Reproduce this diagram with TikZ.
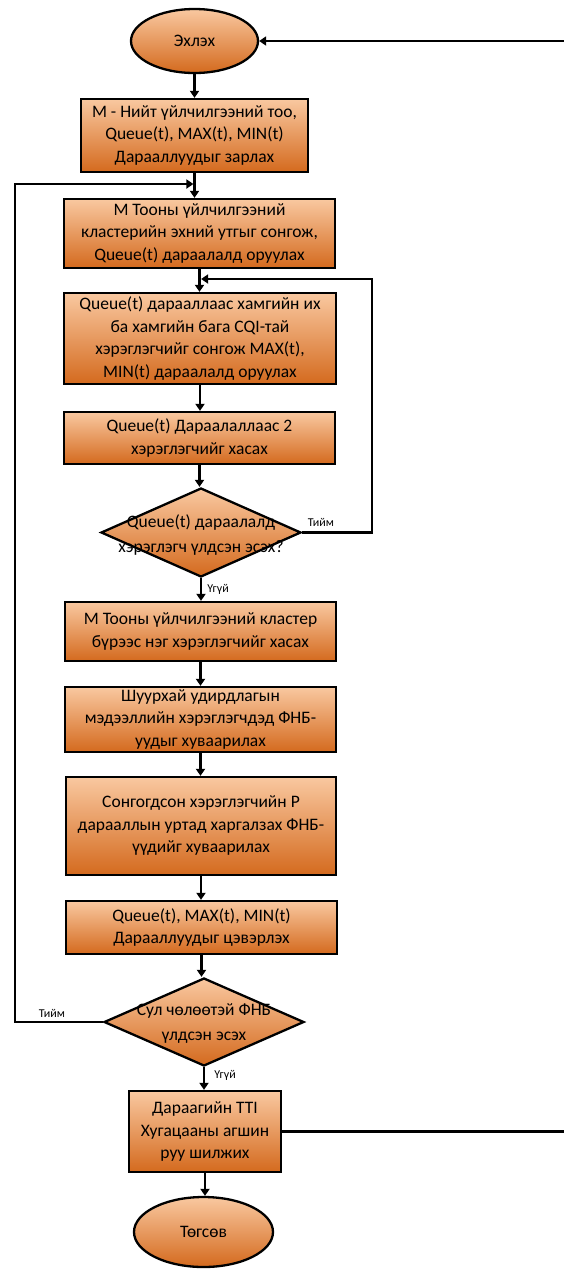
\documentclass[tikz,border=0pt]{standalone}
\usepackage{fontspec}
\setmainfont{Carlito}
\usetikzlibrary{shapes.geometric,arrows.meta}
\definecolor{otop}{RGB}{249,200,160}
\definecolor{obot}{RGB}{212,106,30}
\begin{document}
\begin{tikzpicture}[x=1pt,y=-1pt,
  fillshape/.style={draw=black,line width=2.3pt,top color=otop,bottom color=obot},
  procbox/.style={fillshape,rectangle,inner sep=0pt,align=center,font=\fontsize{17.5}{22.5}\selectfont},
  termnode/.style={fillshape,ellipse,inner sep=0pt,font=\fontsize{17.5}{22.5}\selectfont},
  decision/.style={fillshape,diamond,inner sep=0pt},
  dtext/.style={align=center,font=\fontsize{17.5}{25}\selectfont},
  flow/.style={line width=2.3pt,-{Triangle[width=9pt,length=7pt]}},
  lab/.style={font=\fontsize{12}{14}\selectfont,inner sep=0pt}]
\useasboundingbox (0,0) rectangle (563,1270);

\node[termnode,minimum width=127pt,minimum height=64pt] (start) at (194.5,41) {Эхлэх};
\node[procbox,minimum width=227pt,minimum height=73pt] (b1) at (194.5,135.5)
  {М - Нийт үйлчилгээний тоо,\\ Queue(t), MAX(t), MIN(t)\\ Дарааллуудыг зарлах};
\node[procbox,minimum width=271pt,minimum height=69pt] (b2) at (199.5,233.5)
  {М Тооны үйлчилгээний\\ кластерийн эхний утгыг сонгож,\\ Queue(t) дараалалд оруулах};
\node[procbox,minimum width=272pt,minimum height=91pt] (b3) at (200,338.5)
  {Queue(t) дарааллаас хамгийн их\\ ба хамгийн бага CQI-тай\\ хэрэглэгчийг сонгож MAX(t),\\ MIN(t) дараалалд оруулах};
\node[procbox,minimum width=271pt,minimum height=52pt] (b4) at (199.5,438)
  {Queue(t) Дараалаллаас 2\\ хэрэглэгчийг хасах};
\node[decision,minimum width=200pt,minimum height=89pt,
  label={[dtext,yshift=-3pt]center:{Queue(t) дараалалд\\ хэрэглэгч үлдсэн эсэх?}}] (d1) at (201,532.5) {};
\node[procbox,minimum width=271pt,minimum height=59pt] (b5) at (200.5,631.5)
  {М Тооны үйлчилгээний кластер\\ бүрээс нэг хэрэглэгчийг хасах};
\node[procbox,minimum width=271pt,minimum height=65pt] (b6) at (200.5,719.5)
  {Шуурхай удирдлагын\\ мэдээллийн хэрэглэгчдэд ФНБ-\\ уудыг хуваарилах};
\node[procbox,minimum width=270pt,minimum height=98pt] (b7) at (201,826)
  {Сонгогдсон хэрэглэгчийн Р\\ дарааллын уртад харгалзах ФНБ-\\ үүдийг хуваарилах};
\node[procbox,minimum width=271pt,minimum height=53pt] (b8) at (201.5,927.5)
  {Queue(t), MAX(t), MIN(t)\\ Дарааллуудыг цэвэрлэх};
\node[decision,minimum width=200pt,minimum height=88pt,
  label={[dtext,yshift=-2pt]center:{Сул чөлөөтэй ФНБ\\ үлдсэн эсэх}}] (d2) at (204,1022) {};
\node[procbox,minimum width=152pt,minimum height=81pt] (b9) at (205,1131.5)
  {Дараагийн TTI\\ Хугацааны агшин\\ руу шилжих};
\node[termnode,minimum width=139pt,minimum height=70pt] (end) at (203.5,1232) {Төгсөв};

% main flow
\draw[flow] (start) -- (b1);
\draw[flow] (b1.south) -- (b1.south |- b2.north);
\draw[flow] (b2.south) -- (b2.south |- b3.north);
\draw[flow] (b3.south) -- (b3.south |- b4.north);
\draw[flow] (b4.south) -- (b4.south |- d1.north);
\draw[flow] (d1.south) -- (d1.south |- b5.north);
\draw[flow] (b5.south) -- (b5.south |- b6.north);
\draw[flow] (b6.south) -- (b6.south |- b7.north);
\draw[flow] (b7.south) -- (b7.south |- b8.north);
\draw[flow] (b8.south) -- (b8.south |- d2.north);
\draw[flow] (d2.south) -- (d2.south |- b9.north);
\draw[flow] (b9.south) -- (b9.south |- end.north);

% loops
\coordinate (rj) at (372,279);
\draw[flow] (d1.east) -- (d1.east -| rj) -- (rj) -- ([xshift=1.1pt]b3.north |- rj);
\coordinate (lj) at (15,184);
\draw[flow] (d2.west) -- (d2.west -| lj) -- (lj) -- ([xshift=-1.1pt]b1.south |- lj);
\coordinate (rr) at (568,600);
\draw[flow] (b9.east) -- (b9.east -| rr) -- (rr |- start.east) -- (start.east);

% labels
\node[lab] (l1) at (321,522) {Тийм};
\node[lab] (l2) at (218,589) {Үгүй};
\node[lab] (l3) at (52,1013) {Тийм};
\node[lab] (l4) at (225,1075) {Үгүй};
\end{tikzpicture}
\end{document}
